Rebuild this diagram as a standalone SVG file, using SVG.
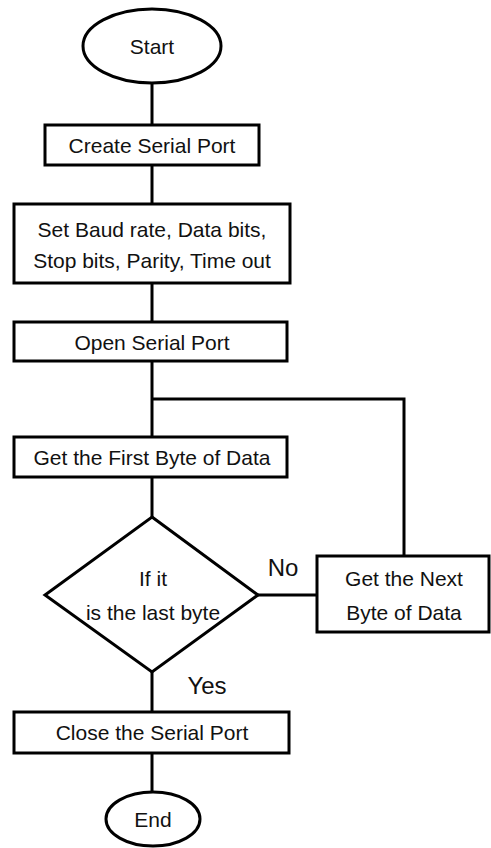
<svg xmlns="http://www.w3.org/2000/svg" width="491" height="848" viewBox="0 0 491 848">
<style>
.s{fill:#fff;stroke:#000;stroke-width:3}
.c{fill:none;stroke:#000;stroke-width:3}
.t{font-family:"Liberation Sans",Arial,sans-serif;font-size:21px;fill:#111;text-anchor:middle;dominant-baseline:central}
.l{font-family:"Liberation Sans",Arial,sans-serif;font-size:24px;fill:#111;text-anchor:middle;dominant-baseline:central}
</style>
<rect width="491" height="848" fill="#fff"/>
<g id="connectors">
<path class="c" d="M152 83V125"/>
<path class="c" d="M152 165V204"/>
<path class="c" d="M152 283V322"/>
<path class="c" d="M152 361V437"/>
<path class="c" d="M152 399H404V556"/>
<path class="c" d="M152 477V517"/>
<path class="c" d="M258 595H317"/>
<path class="c" d="M152 672V712"/>
<path class="c" d="M152 753V791"/>
</g>
<g id="start"><ellipse class="s" cx="152" cy="46" rx="69" ry="37"/><text class="t" x="152" y="46">Start</text></g>
<g id="create"><rect class="s" x="45" y="125" width="214" height="40"/><text class="t" x="152" y="145">Create Serial Port</text></g>
<g id="set"><rect class="s" x="14" y="204" width="276" height="79"/><text class="t" x="152" y="229">Set Baud rate, Data bits,</text><text class="t" x="152" y="260">Stop bits, Parity, Time out</text></g>
<g id="open"><rect class="s" x="14" y="322" width="273" height="39"/><text class="t" x="152" y="342">Open Serial Port</text></g>
<g id="first"><rect class="s" x="14" y="437" width="273" height="40"/><text class="t" x="152" y="457">Get the First Byte of Data</text></g>
<g id="decision"><polygon class="s" points="152,517 258,595 152,672 45,595"/><text class="t" x="153" y="578">If it</text><text class="t" x="153" y="612">is the last byte</text></g>
<g id="next"><rect class="s" x="317" y="556" width="172" height="76"/><text class="t" x="404" y="578">Get the Next</text><text class="t" x="404" y="612">Byte of Data</text></g>
<g id="close"><rect class="s" x="14" y="712" width="275" height="41"/><text class="t" x="152" y="732">Close the Serial Port</text></g>
<g id="end"><ellipse class="s" cx="153" cy="819" rx="47" ry="27"/><text class="t" x="153" y="819">End</text></g>
<g id="labels"><text class="l" x="283" y="567">No</text><text class="l" x="207" y="685">Yes</text></g>
</svg>
